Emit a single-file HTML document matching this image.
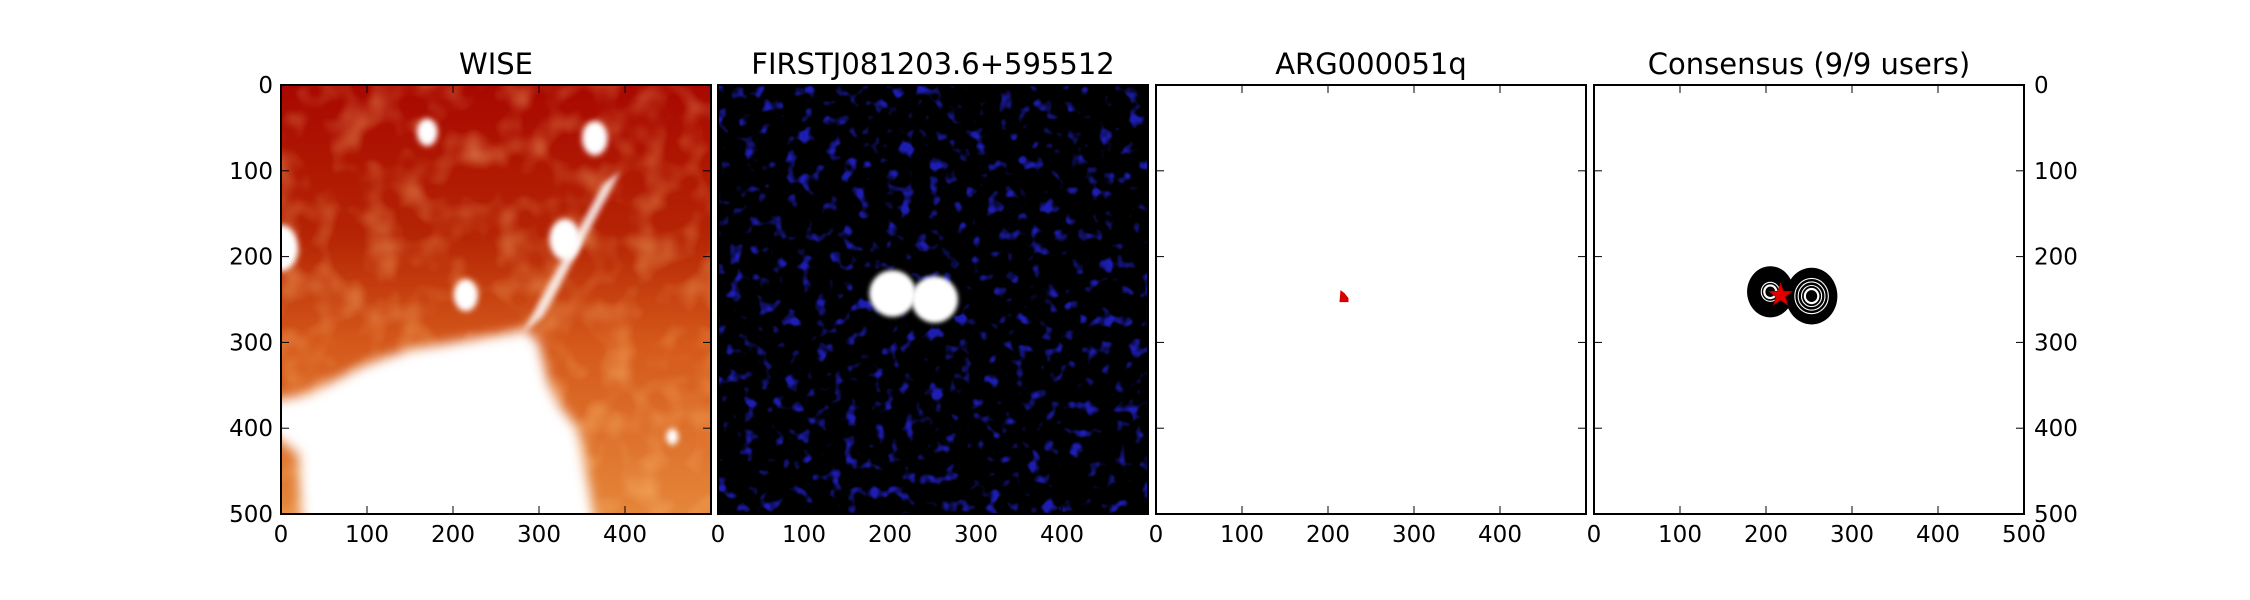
<!DOCTYPE html>
<html><head><meta charset="utf-8"><style>
html,body{margin:0;padding:0;background:#fff;}
svg{display:block;font-family:"DejaVu Sans","Liberation Sans",sans-serif;}
</style></head><body>
<svg id="fig" width="2250" height="600" viewBox="0 0 2250 600" xmlns="http://www.w3.org/2000/svg">
<defs>
  <linearGradient id="wiseGrad" x1="0" y1="0" x2="0" y2="1">
    <stop offset="0" stop-color="#a80800"/>
    <stop offset="0.35" stop-color="#b52404"/>
    <stop offset="0.6" stop-color="#d4581a"/>
    <stop offset="1" stop-color="#e5863a"/>
  </linearGradient>
  <filter id="wiseTex" x="0" y="0" width="1" height="1">
    <feTurbulence type="fractalNoise" baseFrequency="0.03" numOctaves="2" seed="4"/>
    <feColorMatrix type="matrix" values="0 0 0 0 1  0 0 0 0 0.55  0 0 0 0 0.2  1.6 0 0 0 -0.7"/>
  </filter>
  <filter id="blur6" x="-20%" y="-20%" width="140%" height="140%"><feGaussianBlur stdDeviation="6"/></filter>
  <filter id="blur3" x="-50%" y="-50%" width="200%" height="200%"><feGaussianBlur stdDeviation="3"/></filter>
  <filter id="blur2" x="-50%" y="-50%" width="200%" height="200%"><feGaussianBlur stdDeviation="2"/></filter>
  <filter id="radioNoise" x="0" y="0" width="1" height="1">
    <feTurbulence type="fractalNoise" baseFrequency="0.07" numOctaves="2" seed="11"/>
    <feColorMatrix type="matrix" values="0 0 0 0 0.02  0 0 0 0 0.02  0 0 0 0 0.85  5 0 0 0 -2.9"/>
  </filter>
  <clipPath id="clip0"><rect x="281" y="85" width="430" height="429"/></clipPath>
  <clipPath id="clip1"><rect x="718" y="85" width="430" height="429"/></clipPath>
</defs>
<g id="layer"></g>
</svg>
<script>
const panelLefts = [281, 718, 1156, 1594];
const panelTitles = ["WISE", "FIRSTJ081203.6+595512", "ARG000051q", "Consensus (9/9 users)"];
const xTickVals = [0, 100, 200, 300, 400, 500];
const yTickVals = [0, 100, 200, 300, 400, 500];
const radioSourceX = [203, 252];
const radioSourceY = [243, 250];
const radioSourceR = [27, 27];
const wiseStarX = [170, 365, 215, 330, 0, 455];
const wiseStarY = [55, 62, 245, 180, 190, 410];
const wiseStarR = [12, 15, 14, 18, 20, 7];
const consensusX = [205, 253];
const consensusY = [241, 246];
const consensusR = [27, 30];
const peakX = [217];
const peakY = [245];
const clickX = [218];
const clickY = [246];

const TOP = 85, W = 430, H = 429;
const NS = "http://www.w3.org/2000/svg";
const layer = document.getElementById('layer');
function sx(p, v){ return panelLefts[p] + v / 500 * W; }
function sy(v){ return TOP + v / 500 * H; }
function mk(tag, attrs, parent){
  const e = document.createElementNS(NS, tag);
  for (const k in attrs) e.setAttribute(k, attrs[k]);
  (parent || layer).appendChild(e);
  return e;
}

// Panel 1: WISE image
{
  const g = mk('g', {'clip-path': 'url(#clip0)'});
  
  
  mk('rect', {x: sx(0,0), y: TOP, width: W, height: H, fill: 'url(#wiseGrad)'}, g);
  mk('rect', {x: sx(0,0), y: TOP, width: W, height: H, filter: 'url(#wiseTex)', opacity: 0.6}, g);
  const whitePts = [[-20,370],[30,360],[60,345],[100,325],[150,308],[200,300],[250,292],[285,285],[300,300],[310,345],[325,375],[345,400],[355,450],[370,540],[25,540],[20,430],[-20,400]];
  const poly = mk('polygon', {points: whitePts.map(p => sx(0,p[0]) + ',' + sy(p[1])).join(' '), fill: '#fff', filter: 'url(#blur6)'}, g);
  
  
  const streak = mk('polygon', {points: [[280,290],[305,270],[395,100],[375,115]].map(p => sx(0,p[0]) + ',' + sy(p[1])).join(' '), fill: '#fff', opacity: 0.85, filter: 'url(#blur3)'}, g);
  
  
  for (let i = 0; i < wiseStarX.length; i++){
    const c = mk('ellipse', {cx: sx(0, wiseStarX[i]), cy: sy(wiseStarY[i]), rx: wiseStarR[i] * 0.86, ry: wiseStarR[i] * 1.15, fill: '#fff', filter: 'url(#blur3)'}, g);
    
    
  }
}
// Panel 2: radio image
{
  const g = mk('g', {'clip-path': 'url(#clip1)'});
  
  
  mk('rect', {x: sx(1,0), y: TOP, width: W, height: H, fill: '#000'}, g);
  mk('rect', {x: sx(1,0), y: TOP, width: W, height: H, filter: 'url(#radioNoise)', opacity: 0.75}, g);
  for (let i = 0; i < radioSourceX.length; i++){
    const c = mk('ellipse', {cx: sx(1, radioSourceX[i]), cy: sy(radioSourceY[i]), rx: radioSourceR[i] * 0.86, ry: radioSourceR[i] * 0.86, fill: '#fff', filter: 'url(#blur2)'}, g);
    
    
  }
}
// Panel 3: click markers
for (let i = 0; i < clickX.length; i++){
  const x = sx(2,clickX[i]), y = sy(clickY[i]);
  const c = mk('path', {d: `M${x-4},${y+6} L${x-3},${y-6} L${x+1},${y-3} L${x+5},${y+2} L${x+5},${y+6} Z`, fill: '#d40000'});
  
  
}
// Panel 4: contours
{
  const g = mk('g', {});
  
  
  for (let i = 0; i < consensusX.length; i++){
    const cx = sx(3, consensusX[i]), cy = sy(consensusY[i]), r = consensusR[i] * 0.86;
    mk('ellipse', {cx, cy, rx: r, ry: r * 1.1, fill: '#000'}, g);
  }
  mk('rect', {x: sx(3,213), y: sy(228), width: 28, height: 28, fill: '#000'}, g);
  for (let i = 0; i < consensusX.length; i++){
    const cx = sx(3, consensusX[i]), cy = sy(consensusY[i]), r = consensusR[i] * 0.86;
    const nRings = i === 0 ? 2 : 4;
    for (let k = 0; k < nRings; k++){
      const rr = r * (0.26 + k * 0.13);
      mk('ellipse', {cx, cy, rx: rr, ry: rr * 1.05, fill: 'none', stroke: '#fff', 'stroke-width': k === 0 ? 2.2 : 1.1}, g);
    }
  }
  for (let i = 0; i < peakX.length; i++){
    const cx = sx(3, peakX[i]), cy = sy(peakY[i]);
    const pts = [];
    for (let k = 0; k < 10; k++){
      const a = -Math.PI/2 + k * Math.PI / 5, rr = k % 2 ? 5 : 12;
      pts.push((cx + rr*Math.cos(a)).toFixed(1) + ',' + (cy + rr*Math.sin(a)).toFixed(1));
    }
    const s = mk('polygon', {points: pts.join(' '), fill: '#e00000', stroke: '#900', 'stroke-width': 0.8});
    
    
  }
}
// Axes frames, ticks, labels, titles
for (let p = 0; p < 4; p++){
  const L = panelLefts[p];
  const ax = mk('g', {});
  
  
  const frame = mk('rect', {x: L, y: TOP, width: W, height: H, fill: 'none', stroke: '#000', 'stroke-width': 2}, ax);
  
  
  xTickVals.forEach(v => {
    const x = sx(p, v);
    if (v > 0 && v < 500){
      mk('line', {x1: x, y1: TOP, x2: x, y2: TOP + 8, stroke: '#000', 'stroke-width': 1}, ax);
      mk('line', {x1: x, y1: TOP + H, x2: x, y2: TOP + H - 8, stroke: '#000', 'stroke-width': 1}, ax);
    }
    if (v < 500 || p === 3){
      const t = mk('text', {x, y: 542, 'font-size': 23, 'text-anchor': 'middle', fill: '#000'}, ax);
      t.textContent = v;
      
      
    }
  });
  yTickVals.forEach(v => {
    const y = sy(v);
    if (v > 0 && v < 500){
      mk('line', {x1: L, y1: y, x2: L + 8, y2: y, stroke: '#000', 'stroke-width': 1}, ax);
      mk('line', {x1: L + W, y1: y, x2: L + W - 8, y2: y, stroke: '#000', 'stroke-width': 1}, ax);
    }
    if (p === 0 || p === 3){
      const t = mk('text', {x: p === 0 ? L - 8 : L + W + 10, y: y + 8, 'font-size': 23, 'text-anchor': p === 0 ? 'end' : 'start', fill: '#000'}, ax);
      t.textContent = v;
      
      
    }
  });
  const title = mk('text', {x: L + W/2, y: 74, 'font-size': 29, 'text-anchor': 'middle', fill: '#000'}, ax);
  title.textContent = panelTitles[p];
  
  
}
</script>
</body></html>
